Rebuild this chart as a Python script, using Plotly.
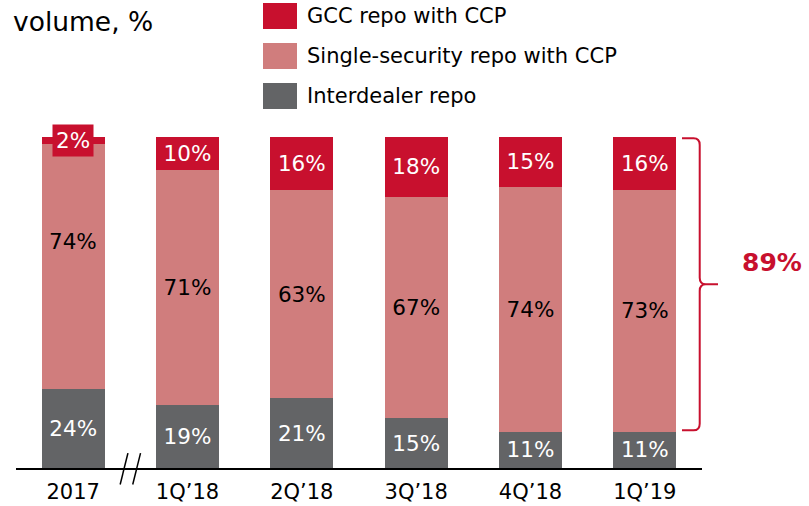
import plotly.graph_objects as go

categories = ["2017", "1Q\u201918", "2Q\u201918", "3Q\u201918", "4Q\u201918", "1Q\u201919"]
interdealer = [24, 19, 21, 15, 11, 11]
single_sec = [74, 71, 63, 67, 74, 73]
gcc = [2, 10, 16, 18, 15, 16]
series_names = ["GCC repo with CCP", "Single-security repo with CCP", "Interdealer repo"]
bracket_label = "89%"
title_text = "volume, %"

C_GCC = "#C8102E"
C_SINGLE = "#D07D7D"
C_INTER = "#636466"
FONT = "DejaVu Sans"
LBL = 21.5

x = list(range(len(categories)))
pct = lambda v: [f"{a}%" for a in v]
n = len(categories)
to_px = lambda xc: (xc + 0.5) / n   # category coordinate -> paper

fig = go.Figure()
fig.add_bar(x=x, y=interdealer, name=series_names[2], marker_color=C_INTER,
            text=pct(interdealer), textfont=dict(color="white"))
ss_text = pct(single_sec)
ss_text[0] = ""   # first bar's label sits higher in the reference; drawn below
fig.add_bar(x=x, y=single_sec, name=series_names[1], marker_color=C_SINGLE,
            text=ss_text, textfont=dict(color="black"))
gcc_text = [("" if v < 5 else f"{v}%") for v in gcc]
fig.add_bar(x=x, y=gcc, name=series_names[0], marker_color=C_GCC,
            text=gcc_text, textfont=dict(color="white"))
fig.update_traces(width=0.55, textposition="inside", insidetextanchor="middle",
                  textangle=0, marker_line_width=0, showlegend=False,
                  cliponaxis=False, hoverinfo="skip")

annotations = []
shapes = []
annotations.append(dict(x=0, y=interdealer[0] + single_sec[0] * 0.6, xref="x", yref="y",
                        text=f"{single_sec[0]}%", showarrow=False,
                        font=dict(color="black", size=LBL, family=FONT)))
# small GCC label for the first bar (value too small to fit inside)
for i, v in enumerate(gcc):
    if v < 5:
        base = interdealer[i] + single_sec[i]
        annotations.append(dict(x=i, y=base + v / 2, xref="x", yref="y",
                                text=f"{v}%", showarrow=False,
                                font=dict(color="white", size=LBL, family=FONT),
                                bgcolor=C_GCC, borderpad=3))

# custom legend
leg_colors = [C_GCC, C_SINGLE, C_INTER]
for k, (nm, col) in enumerate(zip(series_names, leg_colors)):
    y0 = 3 + 40 * k
    shapes.append(dict(type="rect", xref="paper", yref="paper",
                       x0=(263 - 16) / 686, x1=(297 - 16) / 686,
                       y0=(468 - y0) / 331, y1=(468 - y0 - 26) / 331,
                       fillcolor=col, line_width=0))
    annotations.append(dict(xref="paper", yref="paper", x=(305 - 16) / 686,
                            y=(468 - y0 - 13) / 331, text=nm, showarrow=False,
                            xanchor="left", yanchor="middle",
                            font=dict(size=21, color="black", family=FONT)))

annotations.append(dict(xref="paper", yref="paper", x=(11 - 16) / 686,
                        y=(468 - 22) / 331, text=title_text, showarrow=False,
                        xanchor="left", yanchor="middle",
                        font=dict(size=26.5, color="black", family=FONT)))

# axis break marks
for off in (-0.055, 0.055):
    shapes.append(dict(type="line", xref="x", yref="paper",
                       x0=0.5 + off - 0.034, x1=0.5 + off + 0.034,
                       y0=-0.05, y1=0.045, line=dict(color="black", width=1.5)))

# bracket covering GCC + single-security for last bar (paper coordinates)
last = n - 1
top = (interdealer[last] + single_sec[last] + gcc[last]) / 100 - 0.004
bot = interdealer[last] / 100 + 0.004
mid = (top + bot) / 2
xl, xv, xt = to_px(last + 0.325), to_px(last + 0.48), to_px(last + 0.64)
ry, rx = 0.02, 0.009
path = (f"M {xl},{top} L {xv - rx},{top} Q {xv},{top} {xv},{top - ry} "
        f"L {xv},{mid + ry} Q {xv},{mid} {xv + rx},{mid} L {xt},{mid} "
        f"M {xv + rx},{mid} Q {xv},{mid} {xv},{mid - ry} "
        f"L {xv},{bot + ry} Q {xv},{bot} {xv - rx},{bot} L {xl},{bot}")
shapes.append(dict(type="path", xref="paper", yref="paper", path=path,
                   line=dict(color=C_GCC, width=2)))
annotations.append(dict(x=to_px(last + 1.11), y=mid + 0.067, xref="paper", yref="paper",
                        xanchor="center", yanchor="middle",
                        text=f"<b>{bracket_label}</b>", showarrow=False,
                        font=dict(size=25, color=C_GCC, family=FONT)))

fig.update_layout(
    barmode="stack", width=809, height=506,
    margin=dict(l=16, r=107, t=137, b=38),
    paper_bgcolor="white", plot_bgcolor="white",
    font=dict(family=FONT, color="black"),
    uniformtext=dict(minsize=LBL, mode="show"),
    xaxis=dict(range=[-0.5, n - 0.5], tickvals=x, ticktext=categories,
               showline=True, linecolor="black", linewidth=1.5, ticks="",
               showgrid=False, zeroline=False, tickfont=dict(size=21, color="black"),
               ticklabelstandoff=4, automargin=False, fixedrange=True),
    yaxis=dict(range=[0, 100], visible=False, fixedrange=True, automargin=False),
    shapes=shapes, annotations=annotations, showlegend=False,
)
fig.write_html("out.html", config={"displayModeBar": False},
               post_script="document.body.style.margin='0px';document.body.style.overflow='hidden';")
